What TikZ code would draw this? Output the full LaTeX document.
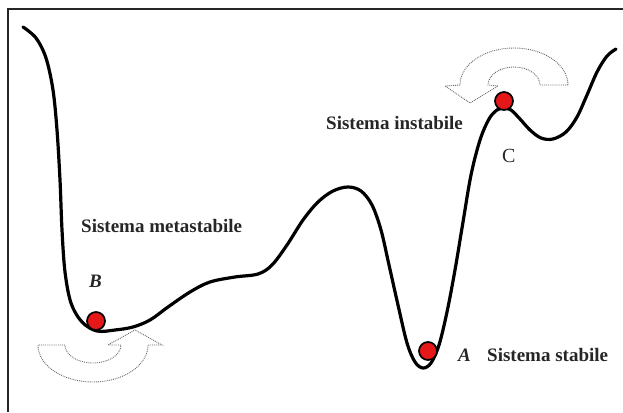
\documentclass[tikz,border=0pt]{standalone}
\usepackage{fontspec}
\setmainfont{Liberation Serif}
\definecolor{ballred}{RGB}{228,24,24}
\begin{document}
\begin{tikzpicture}[x=1pt,y=-1pt,
  ball/.style={circle, draw=black, line width=1.7pt, fill=ballred, minimum size=18pt, inner sep=0pt},
  lbl/.style={anchor=base west, inner sep=0pt, text=black!85, font=\fontsize{19}{22}\selectfont\bfseries},
  flow/.style={draw=black!60, densely dotted, line width=0.9pt}]
\useasboundingbox (0,0) rectangle (623,412);
\draw[black!85, line width=1.6pt] (8,412) -- (8,9) -- (623,9);
% energy landscape
\draw[line width=3.2pt, line cap=round, line join=round] plot[smooth, tension=0.55] coordinates {
  (23,27) (36,38) (46,58) (53,90) (57,130) (60,180) (62,230) (65,272) (71,303) (82,322)
  (97,331) (115,330) (133,327) (150,320) (168,307) (190,292) (210,282) (235,277) (258,274)
  (272,265) (287,245) (303,220) (318,202) (333,191) (348,187) (361,191) (372,205) (381,230)
  (389,265) (398,305) (407,343) (415,362) (423,368) (431,363) (439,345) (447,312) (455,270)
  (463,222) (471,175) (480,140) (489,119) (497,110) (504,108) (511,110) (520,119) (530,130)
  (541,138) (553,139) (566,132) (577,117) (587,95) (597,72) (607,56) (616,49)};
% balls
\node[ball] (ballB) at (96,321) {};
\node[ball] (ballA) at (428,351) {};
\node[ball] (ballC) at (504,101) {};
% labels
\node[lbl] (labB) at (89,287) {\itshape B};
\node[lbl] (meta) at (81,232) {Sistema metastabile};
\node[lbl] (inst) at (326,129) {Sistema instabile};
\node[lbl, font=\fontsize{20}{22}\selectfont] (labC) at (502,162) {C};
\node[lbl] (labA) at (458,361) {\itshape A};
\node[lbl] (stab) at (487,361) {Sistema stabile};
% swing arrows
\draw[flow] (38,345) arc[start angle=180, end angle=0, x radius=55, y radius=37]
  -- (162,345) -- (135,330) -- (108,345) -- (121,345)
  arc[start angle=0, end angle=180, x radius=28, y radius=18] -- cycle;
\draw[flow] (568,85) arc[start angle=0, end angle=-180, x radius=54, y radius=37]
  -- (445,86) -- (470,103) -- (498,86) -- (488,85)
  arc[start angle=180, end angle=360, x radius=26, y radius=18] -- cycle;
\end{tikzpicture}
\end{document}
